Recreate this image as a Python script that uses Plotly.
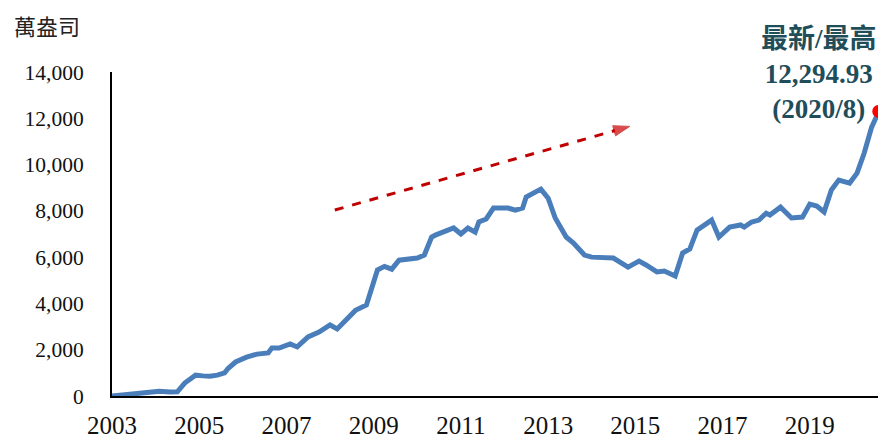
import plotly.graph_objects as go

# Gold ETF holdings (萬盎司)
dates = [
    "2003-01", "2003-07", "2003-10", "2004-02", "2004-05", "2004-07", "2004-09", "2004-12",
    "2005-02", "2005-04", "2005-06", "2005-08", "2005-09", "2005-11",
    "2006-02", "2006-04", "2006-05", "2006-08", "2006-09", "2006-11",
    "2007-02", "2007-04", "2007-07", "2007-10",
    "2008-01", "2008-03", "2008-05", "2008-08", "2008-11", "2008-12",
    "2009-02", "2009-04", "2009-06", "2009-08",
    "2010-01", "2010-03", "2010-05", "2010-06", "2010-09", "2010-11",
    "2011-01", "2011-03", "2011-05", "2011-06", "2011-08", "2011-10",
    "2012-02", "2012-04", "2012-06", "2012-07", "2012-11",
    "2013-01", "2013-03", "2013-06", "2013-08", "2013-11",
    "2014-01", "2014-05", "2014-07", "2014-11",
    "2015-02", "2015-04", "2015-07", "2015-09", "2015-12",
    "2016-02", "2016-04", "2016-06", "2016-10", "2016-12",
    "2017-03", "2017-06", "2017-07", "2017-09", "2017-11",
    "2018-01", "2018-02", "2018-05", "2018-08", "2018-11",
    "2019-01", "2019-03", "2019-05", "2019-07", "2019-09", "2019-12",
    "2020-02", "2020-04", "2020-06", "2020-08",
]
holdings = [
    0, 80, 150, 200, 170, 180, 560, 900,
    870, 850, 900, 1000, 1200, 1470,
    1680, 1760, 1810, 1860, 2070, 2070,
    2250, 2120, 2550, 2760,
    3070, 2900, 3200, 3700, 3930, 4450,
    5440, 5600, 5480, 5870,
    5960, 6090, 6870, 6950, 7170, 7260,
    7000, 7260, 7080, 7520, 7650, 8120,
    8120, 8030, 8120, 8600, 8940,
    8550, 7690, 6870, 6610, 6090,
    6000, 6000, 5960, 5570,
    5830, 5660, 5360, 5400, 5180,
    6180, 6350, 7170, 7600, 6870,
    7300, 7390, 7300, 7520, 7600,
    7900, 7820, 8160, 7690, 7730,
    8290, 8210, 7950, 8900, 9330, 9200,
    9630, 10500, 11600, 12294.93,
]

latest_date = "2020-08"
latest_value = 12294.93

trend_x = ["2008-02-10", "2014-11-15"]
trend_y = [8035, 11650]

tick_years = ["2003", "2005", "2007", "2009", "2011", "2013", "2015", "2017", "2019"]
y_ticks = [0, 2000, 4000, 6000, 8000, 10000, 12000, 14000]

fig = go.Figure()

fig.add_trace(go.Scatter(
    x=dates, y=holdings, mode="lines",
    line=dict(color="#4a7ebb", width=5),
    hoverinfo="skip", showlegend=False,
))

fig.add_trace(go.Scatter(
    x=trend_x, y=trend_y, mode="lines+markers",
    line=dict(color="#c00000", width=3, dash="dash"),
    marker=dict(symbol="arrow", size=[0, 17], color="#cc0000", angleref="previous"),
    hoverinfo="skip", showlegend=False,
))

fig.add_trace(go.Scatter(
    x=[latest_date], y=[latest_value], mode="markers",
    marker=dict(color="#ff0000", size=13),
    cliponaxis=False,
    hoverinfo="skip", showlegend=False,
))

serif = "Liberation Serif, Times New Roman, serif"

fig.add_annotation(
    x=0.918, y=0.995, xref="paper", yref="paper",
    text="<b>最新/最高<br>12,294.93<br>(2020/8)</b>",
    showarrow=False, xanchor="center", yanchor="middle",
    font=dict(family="Liberation Serif, Noto Sans CJK TC, serif", size=27, color="#1f4e5a"),
    align="center",
)

fig.add_annotation(
    x=-0.128, y=1.196, xref="paper", yref="paper",
    text="萬盎司", showarrow=False, xanchor="left", yanchor="top",
    borderpad=0,
    font=dict(family="Noto Sans CJK TC", size=22, color="#222222"),
)

# The page body has an 8px margin, so the figure is sized to fit the window exactly.
fig.update_layout(
    width=878, height=433,
    margin=dict(l=104, r=4, t=64, b=45),
    plot_bgcolor="white", paper_bgcolor="white",
    font=dict(family=serif, color="#111111"),
)

fig.update_xaxes(
    type="date",
    range=["2003-01-01", "2020-08-28"],
    tickvals=[y + "-01-01" for y in tick_years],
    ticktext=tick_years,
    tickfont=dict(family=serif, size=25, color="#111111"),
    showgrid=False, zeroline=False,
    showline=True, linecolor="black", linewidth=2,
    ticks="", ticklabelstandoff=6, automargin=False,
)

fig.update_yaxes(
    range=[0, 14000],
    tickvals=y_ticks,
    ticktext=[f"{v:,}" for v in y_ticks],
    tickfont=dict(family=serif, size=21.5, color="#111111"),
    showgrid=False, zeroline=False,
    showline=True, linecolor="black", linewidth=2,
    ticks="", ticklabelstandoff=22, automargin=False,
)

fig.write_html("out.html")
